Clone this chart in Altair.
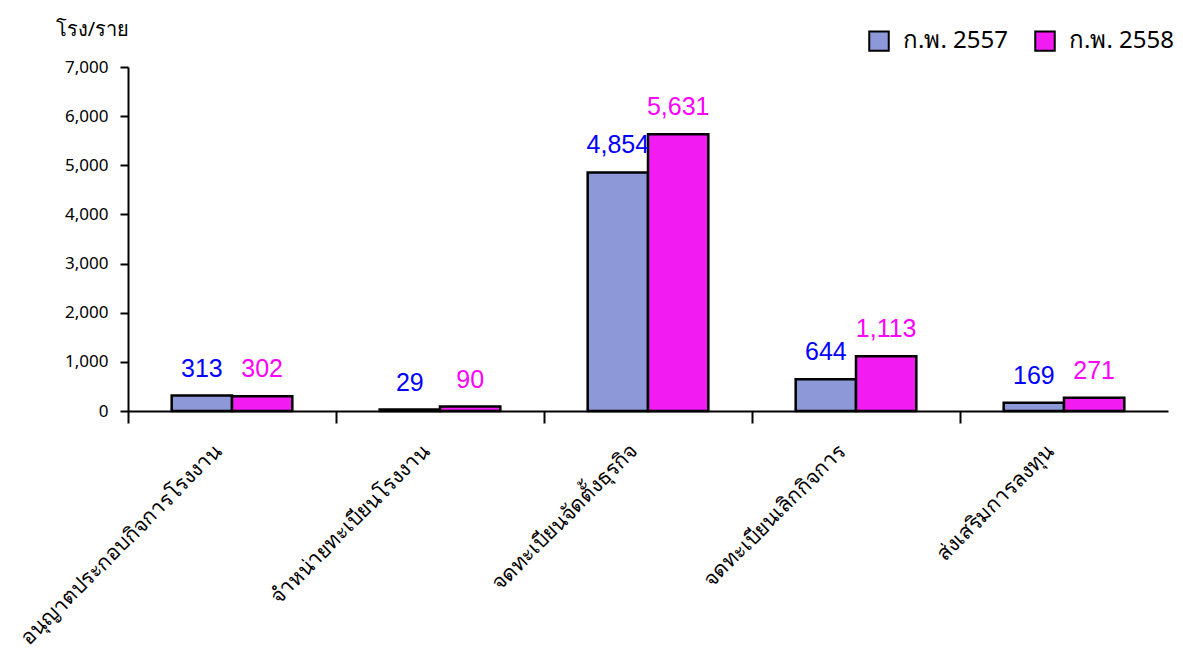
import altair as alt
import pandas as pd

categories = ["อนุญาตประกอบกิจการโรงงาน", "จำหน่ายทะเบียนโรงงาน", "จดทะเบียนจัดตั้งธุรกิจ",
              "จดทะเบียนเลิกกิจการ", "ส่งเสริมการลงทุน"]
years = ["ก.พ. 2557", "ก.พ. 2558"]
v2557 = [313, 29, 4854, 644, 169]
v2558 = [302, 90, 5631, 1113, 271]
fill_colors = ["#8d98d8", "#f21cf2"]
text_colors = ["#0000ff", "#ff00ff"]

rows = []
for c, a, b in zip(categories, v2557, v2558):
    rows.append({"category": c, "year": years[0], "value": a})
    rows.append({"category": c, "year": years[1], "value": b})
df = pd.DataFrame(rows)

FONT = "Noto Sans"
W = 1040
STEP = W / 5

x_enc = alt.X("category:N", sort=categories, title=None,
              scale=alt.Scale(paddingInner=0.42, paddingOuter=0.21),
              axis=alt.Axis(labelAngle=-45, labelAlign="right", labelBaseline="middle",
                            labelFontSize=21, labelFont=FONT, labelColor="black",
                            labelPadding=25, tickOffset=-STEP / 2, labelOffset=STEP / 2 - 14,
                            tickSize=12, tickWidth=2, tickColor="black",
                            domainColor="black", domainWidth=2, labelLimit=500))
xo_enc = alt.XOffset("year:N", sort=years)
y_enc = alt.Y("value:Q", scale=alt.Scale(domain=[0, 7000]),
              axis=alt.Axis(values=list(range(0, 7001, 1000)), format=",d", grid=False,
                            labelFontSize=17, labelFont=FONT, labelColor="black",
                            labelPadding=12, tickSize=8, tickWidth=2, tickColor="black",
                            domainColor="black", domainWidth=2,
                            title="โรง/ราย", titleAngle=0, titleFont=FONT,
                            titleFontSize=20, titleFontWeight="normal",
                            titleAlign="center", titleBaseline="middle",
                            titleX=-36, titleY=-38, titleColor="black"))

bars = alt.Chart(df).mark_bar(stroke="black", strokeWidth=2.5).encode(
    x=x_enc, xOffset=xo_enc, y=y_enc,
    fill=alt.Fill("year:N", sort=years,
                  scale=alt.Scale(domain=years, range=fill_colors),
                  legend=alt.Legend(title=None, orient="none", legendX=739, legendY=-38,
                                    direction="horizontal", symbolType="square",
                                    symbolSize=380, symbolStrokeColor="black",
                                    symbolStrokeWidth=2, symbolOpacity=1,
                                    labelFontSize=24, labelFont=FONT,
                                    labelColor="black", labelOffset=12,
                                    columnPadding=22)),
)

labels = alt.Chart(df).mark_text(baseline="bottom", dy=-14, fontSize=25,
                                 font="Liberation Sans").encode(
    x=x_enc,
    xOffset=xo_enc,
    y=y_enc,
    text=alt.Text("value:Q", format=","),
    color=alt.Color("year:N", sort=years,
                    scale=alt.Scale(domain=years, range=text_colors), legend=None),
)

chart = alt.layer(bars, labels).resolve_scale(color="independent").properties(
    width=W, height=344, background="white",
    autosize=alt.AutoSizeParams(type="none"),
    padding={"left": 120, "top": 59, "right": 5, "bottom": 248},
).configure_view(stroke=None)

chart.save("out.html", embed_options={"renderer": "svg", "actions": False})
